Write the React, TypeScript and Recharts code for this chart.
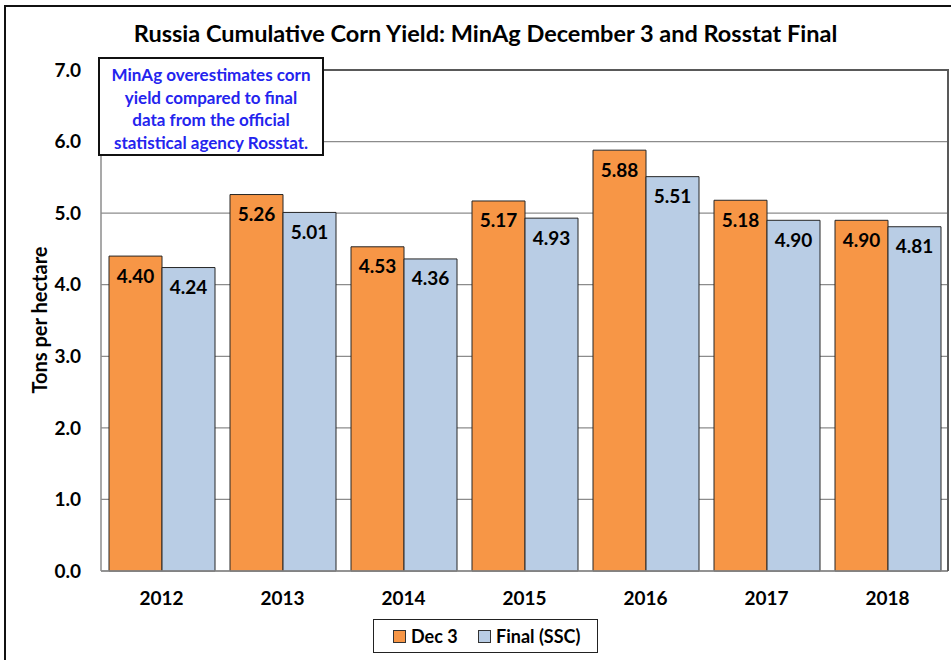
import React from 'react';
import { BarChart, Bar, XAxis, YAxis, CartesianGrid, LabelList } from 'recharts';

const years = ['2012', '2013', '2014', '2015', '2016', '2017', '2018'];
const dec3 = [4.40, 5.26, 4.53, 5.17, 5.88, 5.18, 4.90];
const finalSSC = [4.24, 5.01, 4.36, 4.93, 5.51, 4.90, 4.81];
const yTicks = [0, 1, 2, 3, 4, 5, 6, 7];

const data = years.map((y, i) => ({ year: y, dec3: dec3[i], final: finalSSC[i] }));

const FONT = 'Lato, "Open Sans", sans-serif';
const ORANGE = '#F79646';
const BLUE = '#B9CDE5';

export default function App() {
  return (
    <div style={{ position: 'absolute', left: 0, top: 0, width: 951, height: 660, overflow: 'hidden', background: '#fff', fontFamily: FONT }}>
      <div style={{ position: 'absolute', left: 4, top: 5, width: 1000, height: 700, border: '2px solid #111' }} />
      <div style={{ position: 'absolute', left: 0, top: 0 }}>
        <BarChart width={951} height={660} data={data} margin={{ top: 70, right: 3, bottom: 59, left: 0 }} barGap={0} barSize={53}>
          <CartesianGrid vertical={false} stroke="#8c8c8c" strokeWidth={1.3} />
          <XAxis
            dataKey="year"
            height={30}
            tickSize={0}
            tickMargin={21}
            axisLine={{ stroke: '#8c8c8c', strokeWidth: 1.5 }}
            tick={{ fill: '#000', fontSize: 19, fontWeight: 700, fontFamily: FONT }}
          />
          <YAxis
            width={101}
            domain={[0, 7]}
            ticks={yTicks}
            interval={0}
            tickSize={0}
            tickMargin={20}
            tickFormatter={(v: number) => v.toFixed(1)}
            axisLine={{ stroke: '#8c8c8c', strokeWidth: 1.5 }}
            tick={{ fill: '#000', fontSize: 19, fontWeight: 700, fontFamily: FONT }}
          />
          <Bar dataKey="dec3" fill={ORANGE} stroke="#262626" strokeWidth={1} isAnimationActive={false}>
            <LabelList dataKey="dec3" position="insideTop" offset={13} formatter={(v: number) => v.toFixed(2)}
              style={{ fill: '#000', fontSize: 19, fontWeight: 700, fontFamily: FONT }} />
          </Bar>
          <Bar dataKey="final" fill={BLUE} stroke="#262626" strokeWidth={1} isAnimationActive={false}>
            <LabelList dataKey="final" position="insideTop" offset={13} formatter={(v: number) => v.toFixed(2)}
              style={{ fill: '#000', fontSize: 19, fontWeight: 700, fontFamily: FONT }} />
          </Bar>
        </BarChart>
      </div>
      {/* plot area top and right border */}
      <div style={{ position: 'absolute', left: 101, top: 69, width: 847, height: 0, borderTop: '2px solid #595959' }} />
      <div style={{ position: 'absolute', left: 947, top: 69, width: 0, height: 502, borderLeft: '2px solid #595959' }} />
      {/* title */}
      <div style={{ position: 'absolute', left: 0, top: 18, width: 971, textAlign: 'center', fontSize: 23.5, fontWeight: 700, color: '#000', lineHeight: '30px', whiteSpace: 'nowrap' }}>
        Russia Cumulative Corn Yield: MinAg December 3 and Rosstat Final
      </div>
      {/* y label */}
      <div style={{ position: 'absolute', left: 39, top: 320, width: 0, height: 0 }}>
        <div style={{ position: 'absolute', left: -100, top: -13, width: 200, textAlign: 'center', transform: 'rotate(-90deg)', fontSize: 20, fontWeight: 700, lineHeight: '26px', whiteSpace: 'nowrap' }}>
          Tons per hectare
        </div>
      </div>
      {/* annotation */}
      <div style={{ position: 'absolute', left: 98, top: 57, width: 222, height: 95, border: '2px solid #111', background: '#fff', boxSizing: 'content-box' }}>
        <div style={{ paddingTop: 5, textAlign: 'center', color: '#2424ee', fontSize: 17, fontWeight: 700, lineHeight: '22.5px', whiteSpace: 'nowrap' }}>
          MinAg overestimates corn<br />yield compared to final<br />data from the official<br />statistical agency Rosstat.
        </div>
      </div>
      {/* legend */}
      <div style={{ position: 'absolute', left: 373, top: 619, width: 223, height: 32, border: '1.5px solid #222', background: '#fff', boxSizing: 'content-box' }}>
        <div style={{ position: 'absolute', left: 19, top: 10, width: 11, height: 11, background: ORANGE, border: '1px solid #333' }} />
        <div style={{ position: 'absolute', left: 37, top: 3, fontSize: 18, fontWeight: 700, lineHeight: '26px' }}>Dec 3</div>
        <div style={{ position: 'absolute', left: 104, top: 10, width: 11, height: 11, background: BLUE, border: '1px solid #333' }} />
        <div style={{ position: 'absolute', left: 122, top: 3, fontSize: 18, fontWeight: 700, lineHeight: '26px' }}>Final (SSC)</div>
      </div>
    </div>
  );
}
